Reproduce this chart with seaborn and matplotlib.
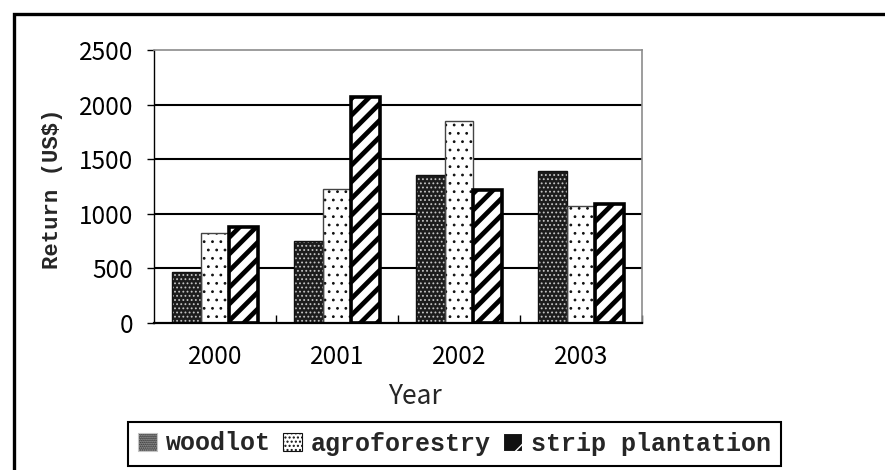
import matplotlib
matplotlib.use("Agg")
import matplotlib.pyplot as plt
import matplotlib.patches as mpatches
from matplotlib.ticker import FixedLocator
import seaborn as sns
import pandas as pd

# Returns per land-use system
years = ["2000", "2001", "2002", "2003"]
systems = ["woodlot", "agroforestry", "strip plantation"]
woodlot = [470, 750, 1355, 1390]
agroforestry = [820, 1225, 1853, 1072]
strip_plantation = [880, 2070, 1216, 1094]
y_ticks = [0, 500, 1000, 1500, 2000, 2500]

df = pd.DataFrame({
    "Year": years * 3,
    "Return": woodlot + agroforestry + strip_plantation,
    "System": [s for s in systems for _ in years],
})

sns.set_theme(style="white")
plt.rcParams["font.family"] = ["Noto Sans CJK JP", "DejaVu Sans"]

styles = {
    "woodlot": dict(face="#1c1c1c", hatch="....", hcolor="#c4c4c4", hlw=0.8,
                    edge="#111111", lw=1.0),
    "agroforestry": dict(face="white", hatch="..", hcolor="#111111", hlw=0.8,
                         edge="#444444", lw=1.0),
    "strip plantation": dict(face="white", hatch="//", hcolor="black", hlw=3.4,
                             edge="black", lw=2.6),
}

# swatches shown in the legend
swatches = {
    "woodlot": dict(face="#1c1c1c", hatch="........", hcolor="#c4c4c4", hlw=0.8),
    "agroforestry": dict(face="white", hatch="....", hcolor="#111111", hlw=0.8),
    "strip plantation": dict(face="#111111", hatch="/", hcolor="white", hlw=2.2),
}


def hatched_rect(xy, w, h, st, **kw):
    with plt.rc_context({"hatch.linewidth": st["hlw"]}):
        r = mpatches.Rectangle(xy, w, h, fill=False, hatch=st["hatch"],
                               edgecolor=st["hcolor"], linewidth=0, **kw)
    if hasattr(r, "set_hatch_linewidth"):
        r.set_hatch_linewidth(st["hlw"])
    return r


fig = plt.figure(figsize=(8.85, 4.70), dpi=100)
ax = fig.add_axes([154 / 885, 1 - 323 / 470, (642 - 154) / 885, (323 - 50) / 470])

sns.barplot(data=df, x="Year", y="Return", hue="System", hue_order=systems,
            order=years, width=0.7, saturation=1, palette=["white"] * 3,
            legend=False, ax=ax, zorder=3)

for name, cont in zip(systems, ax.containers):
    st = styles[name]
    for bar in cont:
        bar.set_facecolor(st["face"])
        bar.set_edgecolor("none")
        x, y = bar.get_xy()
        w, h = bar.get_width(), bar.get_height()
        ax.add_patch(hatched_rect((x, y), w, h, st, zorder=4))
        ax.add_patch(mpatches.Rectangle((x, y), w, h, fill=False,
                                        edgecolor=st["edge"], linewidth=st["lw"],
                                        zorder=5))

ax.set_ylim(0, 2500)
ax.set_xlim(-0.5, 3.5)
ax.set_yticks(y_ticks)
ax.set_yticklabels([str(t) for t in y_ticks])
for t in y_ticks[1:-1]:
    ax.axhline(t, color="black", linewidth=1.5, zorder=1)

ax.set_xlabel("")
ax.set_ylabel("")
ax.tick_params(axis="y", which="major", direction="out", length=5, width=1,
               color="black", left=True, pad=10, labelsize=17.5, labelcolor="black")
ax.tick_params(axis="x", which="major", length=0, pad=15, labelsize=17.5,
               labelcolor="black")
ax.xaxis.set_minor_locator(FixedLocator([0.5, 1.5, 2.5, 3.5]))
ax.tick_params(axis="x", which="minor", direction="in", length=6, width=1,
               color="black", bottom=True)

for side in ("top", "right"):
    ax.spines[side].set_color("#8c8c8c")
    ax.spines[side].set_linewidth(1.2)
ax.spines["left"].set_color("black")
ax.spines["left"].set_linewidth(1.0)
ax.spines["bottom"].set_color("black")
ax.spines["bottom"].set_linewidth(1.6)
for s in ax.spines.values():
    s.set_visible(True)
    s.set_zorder(6)

fig.text(53 / 885, 1 - 189 / 470, "Return (US$)", rotation=90, ha="center",
         va="center", family="Liberation Mono", weight="bold", fontsize=16)
fig.text(415 / 885, 1 - 396 / 470, "Year", ha="center", va="center",
         fontsize=19)

handles = []
for name in systems:
    sw = swatches[name]
    with plt.rc_context({"hatch.linewidth": sw["hlw"]}):
        hp = mpatches.Patch(facecolor=sw["face"], hatch=sw["hatch"],
                            edgecolor=sw["hcolor"], linewidth=0.8, label=name)
    if hasattr(hp, "set_hatch_linewidth"):
        hp.set_hatch_linewidth(sw["hlw"])
    handles.append(hp)

leg = fig.legend(handles=handles, labels=systems, loc="center",
                 bbox_to_anchor=(454.5 / 885, 1 - 443.5 / 470),
                 bbox_transform=fig.transFigure, ncol=3, frameon=True,
                 fancybox=False, edgecolor="black", framealpha=1,
                 prop={"family": "Liberation Mono", "weight": "bold", "size": 18},
                 handlelength=0.75, handleheight=0.75, handletextpad=0.35,
                 columnspacing=0.5, borderpad=0.4, borderaxespad=0)
leg.get_frame().set_linewidth(1.5)

# outer frame around the figure
fig.patches.append(mpatches.Rectangle((14 / 885, -0.2), 1.5, 1.2 - 14 / 470,
                                      transform=fig.transFigure, fill=False,
                                      edgecolor="black", linewidth=2.4))

fig.savefig("out.png", dpi=100, facecolor="white")
